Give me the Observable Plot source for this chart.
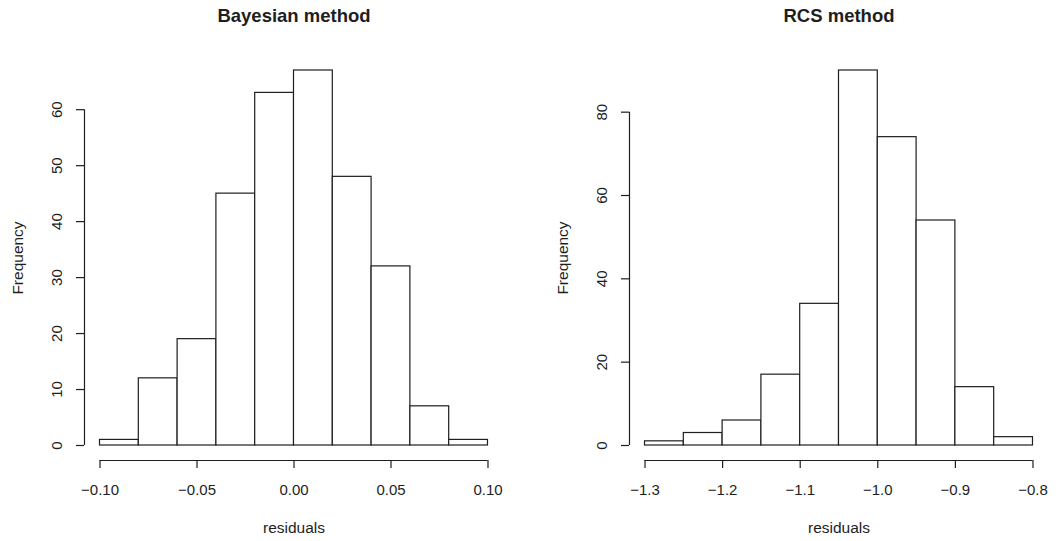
<!DOCTYPE html>
<html>
<head>
<meta charset="utf-8">
<script src="https://cdn.jsdelivr.net/npm/d3@7"></script>
<script src="https://cdn.jsdelivr.net/npm/@observablehq/plot@0.6"></script>
<style>
  html, body { margin: 0; padding: 0; background: #fff; }
  #wrap { display: flex; flex-direction: row; width: 1060px; height: 541px; }
</style>
</head>
<body>
<div id="wrap"></div>
<script>
// ---- Data ----
const bayesBreaks = [-0.10, -0.08, -0.06, -0.04, -0.02, 0.00, 0.02, 0.04, 0.06, 0.08, 0.10];
const bayesCounts = [1, 12, 19, 45, 63, 67, 48, 32, 7, 1];
const bayesXTicks = [-0.10, -0.05, 0.00, 0.05, 0.10];
const bayesXLabels = ["\u22120.10", "\u22120.05", "0.00", "0.05", "0.10"];
const bayesYTicks = [0, 10, 20, 30, 40, 50, 60];

const rcsBreaks = [-1.30, -1.25, -1.20, -1.15, -1.10, -1.05, -1.00, -0.95, -0.90, -0.85, -0.80];
const rcsCounts = [1, 3, 6, 17, 34, 90, 74, 54, 14, 2];
const rcsXTicks = [-1.3, -1.2, -1.1, -1.0, -0.9, -0.8];
const rcsXLabels = ["\u22121.3", "\u22121.2", "\u22121.1", "\u22121.0", "\u22120.9", "\u22120.8"];
const rcsYTicks = [0, 20, 40, 60, 80];

const titles = ["Bayesian method", "RCS method"];
const xLabel = "residuals";
const yLabel = "Frequency";

const ink = "#1e1e1e";

function panel({breaks, counts, xTicks, xLabels, yTicks, title, marginLeft, marginRight}) {
  const bins = counts.map((c, i) => ({x1: breaks[i], x2: breaks[i + 1], count: c}));
  const x0 = breaks[0], x1 = breaks[breaks.length - 1], xr = x1 - x0;
  const ymax = d3.max(counts);
  const xDomain = [x0 - 0.04 * xr, x1 + 0.04 * xr];
  const yDomain = [-0.04 * ymax, ymax * 1.04];
  return Plot.plot({
    width: 530,
    height: 541,
    marginLeft,
    marginRight,
    marginTop: 55,
    marginBottom: 81,
    style: {fontFamily: "'Liberation Sans', Arial, Helvetica, sans-serif", fontSize: "15px", color: ink, background: "#fff", overflow: "visible"},
    x: {domain: xDomain, axis: null},
    y: {domain: yDomain, axis: null},
    marks: [
      Plot.rect(bins, {x1: "x1", x2: "x2", y1: 0, y2: "count", fill: "#fff", stroke: ink, strokeWidth: 1.2, inset: 0}),
      // x axis line & ticks
      Plot.ruleY([yDomain[0]], {x1: xTicks[0], x2: xTicks[xTicks.length - 1], stroke: ink, strokeWidth: 1.2}),
      Plot.axisX({ticks: xTicks, tickSize: 8, tickFormat: () => "", anchor: "bottom", label: null, stroke: ink, strokeWidth: 1.2}),
      Plot.text(xTicks, {x: d => d, text: (d, i) => xLabels[i], frameAnchor: "bottom", lineAnchor: "middle", textAnchor: "middle", dy: 30, fontSize: 15, fill: ink}),
      // y axis line & ticks
      Plot.ruleX([xDomain[0]], {y1: yTicks[0], y2: yTicks[yTicks.length - 1], stroke: ink, strokeWidth: 1.2}),
      Plot.axisY({ticks: yTicks, tickSize: 8, tickFormat: () => "", anchor: "left", label: null, stroke: ink, strokeWidth: 1.2}),
      Plot.text(yTicks, {y: d => d, text: d => String(d), frameAnchor: "left", lineAnchor: "middle", textAnchor: "middle", dx: -27, rotate: -90, fontSize: 15, fill: ink}),
      // labels
      Plot.text([title], {frameAnchor: "top", lineAnchor: "middle", textAnchor: "middle", dy: -39, fontWeight: "bold", fontSize: 18.5, fill: ink}),
      Plot.text([xLabel], {frameAnchor: "bottom", lineAnchor: "middle", textAnchor: "middle", dy: 68, fontSize: 15.5, fill: ink}),
      Plot.text([yLabel], {frameAnchor: "left", lineAnchor: "middle", textAnchor: "middle", dx: -66, rotate: -90, fontSize: 15.5, fill: ink})
    ]
  });
}

const wrap = document.getElementById("wrap");
wrap.appendChild(panel({breaks: bayesBreaks, counts: bayesCounts, xTicks: bayesXTicks, xLabels: bayesXLabels, yTicks: bayesYTicks, title: titles[0], marginLeft: 84, marginRight: 27}));
wrap.appendChild(panel({breaks: rcsBreaks, counts: rcsCounts, xTicks: rcsXTicks, xLabels: rcsXLabels, yTicks: rcsYTicks, title: titles[1], marginLeft: 99, marginRight: 12}));
</script>
</body>
</html>
